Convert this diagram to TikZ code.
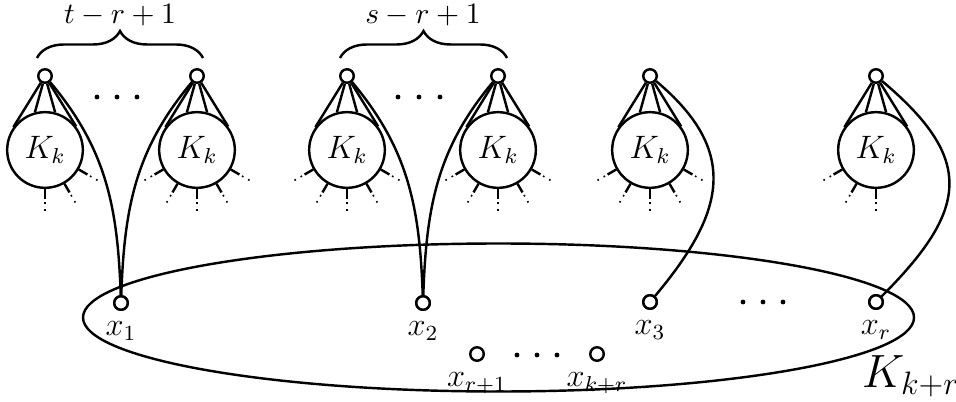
\documentclass[tikz,border=0pt]{standalone}
\usetikzlibrary{decorations.pathreplacing,calc}
\begin{document}
\begin{tikzpicture}[x=0.37pt,y=0.37pt,line width=0.9pt,
  font=\fontsize{12}{14.4}\selectfont,
  vtx/.style={circle,draw,fill=white,minimum size=5pt,inner sep=0pt,line width=0.9pt},
  kk/.style={circle,draw,minimum size=28pt,inner sep=0pt,line width=0.9pt},
  dotm/.style={circle,fill,minimum size=1.8pt,inner sep=0pt},
  xl/.style={label distance=-2.2pt,every label/.append style={font=\fontsize{11.5}{13}\selectfont}},
  toplabel/.style={inner sep=0pt,anchor=base,font=\fontsize{10.5}{12}\selectfont},
  bracestyle/.style={decorate,decoration={brace,amplitude=10pt}},
  stubdots/.style={dotted,line width=0.6pt}]
\useasboundingbox (0,0) rectangle (956,-402);

% big ellipse K_{k+r}
\draw (498.5,-317.5) ellipse [x radius=415.5, y radius=74];
\node[anchor=base west,inner sep=0pt,font=\fontsize{16.5}{19}\selectfont] (Kbig) at (861,-387) {$K_{k+r}$};

% K_k circles
\foreach \i/\x in {1/45,2/197,3/347,4/498,5/650,6/876}{
  \node[kk] (k\i) at (\x,-150) {$K_k$};
}
% top vertices
\foreach \i/\x in {1/45,2/197,3/347,4/498,5/650,6/876}{
  \node[vtx] (t\i) at (\x,-76) {};
}
% bottom vertices
\node[vtx,xl,label=below:{$x_1$}] (b1) at (121,-303) {};
\node[vtx,xl,label=below:{$x_2$}] (b2) at (423,-303) {};
\node[vtx,xl,label=below:{$x_3$}] (b3) at (650,-302) {};
\node[vtx,xl,label=below:{$x_r$}] (br) at (876,-302) {};
\node[vtx,xl,label=below:{$x_{r+1}$}] (bs) at (477,-354) {};
\node[vtx,xl,label=below:{$x_{k+r}$}] (bk) at (597,-354) {};

% edges top vertex -> circle
\foreach \i in {1,...,6}{
  \foreach \a in {144,105,75,37}{
    \draw (t\i) -- (k\i.\a);
  }
}

% stubs
\foreach \c/\angs in {k1/{-90,-60,-30},k2/{-150,-120,-90,-60,-30},k3/{-150,-120,-90,-60,-30},k4/{-150,-120,-90,-60,-30},k5/{-150,-120,-90,-60,-30},k6/{-150,-120,-90}}{
  \foreach \a in \angs {
    \coordinate (s1) at ($(\c)+(\a:49)$);
    \coordinate (s2) at ($(\c)+(\a:52)$);
    \coordinate (s3) at ($(\c)+(\a:65)$);
    \draw (\c.\a) -- (s1);
    \draw[stubdots] (s2) -- (s3);
  }
}

% long curves
\draw (t1) to[out=-50,in=92] (b1);
\draw (t2) to[out=-130,in=88] (b1);
\draw (t3) to[out=-50,in=92] (b2);
\draw (t4) to[out=-130,in=88] (b2);
\draw (t5) to[out=-40,in=50,looseness=1.3] (b3);
\draw (t6) to[out=-40,in=45,looseness=1.45] (br);

% redraw vertices on top
\foreach \n in {b1,b2,b3,br}{ \node[vtx] at (\n) {}; }

% dots
\foreach \i/\x/\y in {1/97/97,2/117/97,3/137/97,4/398/97,5/419/97,6/440/97,
  7/743/302,8/763/302,9/783/302,10/517/355,11/537/355,12/557/355}{
  \node[dotm] (d\i) at (\x,-\y) {};
}

% braces
\coordinate (ba1) at (37,-58);
\coordinate (bb1) at (203,-58);
\coordinate (ba2) at (340,-58);
\coordinate (bb2) at (507,-58);
\draw[bracestyle] (ba1) -- (bb1);
\draw[bracestyle] (ba2) -- (bb2);
\node[toplabel] (lab1) at (120,-24) {$t-r+1$};
\node[toplabel] (lab2) at (423,-24) {$s-r+1$};
\end{tikzpicture}
\end{document}
